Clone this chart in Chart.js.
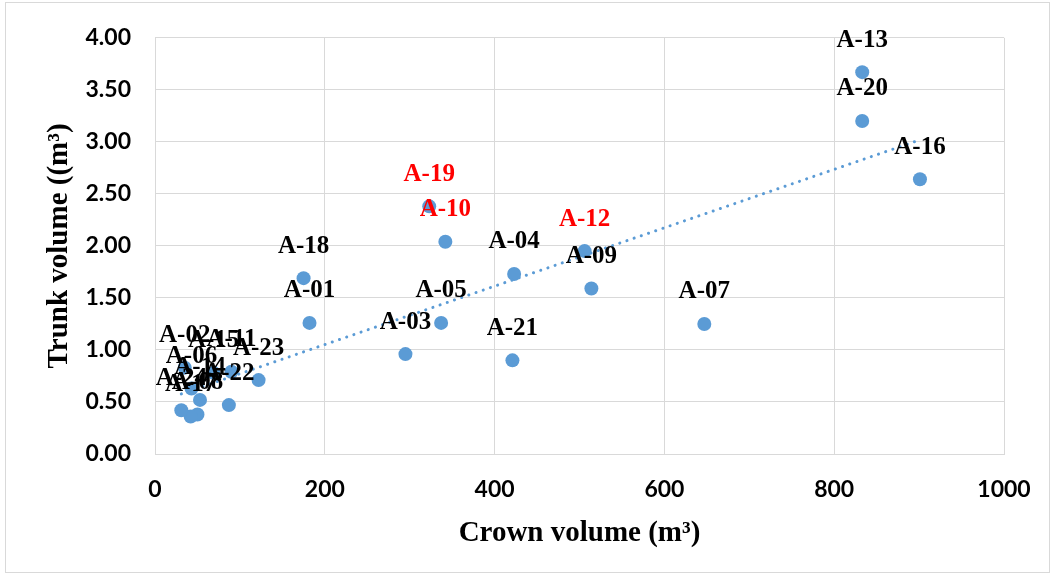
<!DOCTYPE html>
<html>
<head>
<meta charset="utf-8">
<script src="https://cdn.jsdelivr.net/npm/chart.js@4.4.1/dist/chart.umd.min.js"></script>
<style>
html,body{margin:0;padding:0;background:#fff;}
#wrap{width:1055px;height:578px;position:relative;}
</style>
</head>
<body>
<div id="wrap"><canvas id="c" width="1055" height="578"></canvas></div>
<script>
// ---- data ----
const sampleLabels = ['A-01','A-02','A-03','A-04','A-05','A-06','A-07','A-08','A-09','A-10','A-11','A-12',
                      'A-13','A-14','A-15','A-16','A-17','A-18','A-19','A-20','A-21','A-22','A-23','A-24'];
const crownVolume = [182, 35, 295, 423, 337, 43, 647, 50, 514, 342, 90, 506,
                     833, 53, 69, 901, 42, 175, 323, 833, 421, 87, 122, 31];
const trunkVolume = [1.26, 0.83, 0.96, 1.73, 1.26, 0.63, 1.25, 0.38, 1.59, 2.04, 0.79, 1.95,
                     3.67, 0.52, 0.78, 2.64, 0.36, 1.69, 2.38, 3.20, 0.90, 0.47, 0.71, 0.42];
const redLabels = ['A-19','A-10','A-12'];
const xTicks = [0, 200, 400, 600, 800, 1000];
const yTicks = [0, 0.5, 1, 1.5, 2, 2.5, 3, 3.5, 4];

// linear trendline (least squares) from the data, like the spreadsheet trendline
const n = crownVolume.length;
const mx = crownVolume.reduce((a,b)=>a+b,0)/n;
const my = trunkVolume.reduce((a,b)=>a+b,0)/n;
let sxy = 0, sxx = 0;
for (let i=0;i<n;i++){ sxy += (crownVolume[i]-mx)*(trunkVolume[i]-my); sxx += (crownVolume[i]-mx)**2; }
const slope = sxy/sxx, intercept = my - slope*mx;
const xMin = Math.min(...crownVolume), xMax = Math.max(...crownVolume);
const trendPoints = [{x:xMin, y:intercept+slope*xMin},{x:xMax, y:intercept+slope*xMax}];

const points = crownVolume.map((x,i)=>({x:x, y:trunkVolume[i]}));

const BLUE = '#5B9BD5';
const GRID = '#D9D9D9';

const labelPlugin = {
  id: 'pointLabels',
  afterDatasetsDraw(chart){
    const ctx = chart.ctx;
    const meta = chart.getDatasetMeta(1);
    ctx.save();
    ctx.font = 'bold 25px "Liberation Serif", "Times New Roman", serif';
    ctx.textAlign = 'center';
    ctx.textBaseline = 'middle';
    meta.data.forEach((el,i)=>{
      const name = sampleLabels[i];
      ctx.fillStyle = redLabels.includes(name) ? '#FF0000' : '#000000';
      ctx.fillText(name, el.x, el.y - 32);
    });
    ctx.restore();
  }
};

const borderPlugin = {
  id: 'outerBorder',
  beforeDraw(chart){
    const ctx = chart.ctx;
    ctx.save();
    ctx.fillStyle = '#fff';
    ctx.fillRect(0,0,chart.width,chart.height);
    ctx.strokeStyle = GRID;
    ctx.lineWidth = 1;
    ctx.strokeRect(5.5, 2.5, 1044, 570);
    ctx.restore();
  }
};

const tickFont = {family: 'Lato, "Open Sans", sans-serif', size: 23, weight: 'bold'};
const titleFont = {family: '"Liberation Serif", "Times New Roman", serif', size: 29, weight: 'bold'};

new Chart(document.getElementById('c'), {
  type: 'scatter',
  data: {
    datasets: [
      {
        label: 'Trend',
        data: trendPoints,
        showLine: true,
        borderColor: BLUE,
        borderWidth: 3,
        borderDash: [0.1, 7.5],
        borderCapStyle: 'round',
        pointRadius: 0,
        fill: false
      },
      {
        label: 'Samples',
        data: points,
        backgroundColor: BLUE,
        borderColor: BLUE,
        pointRadius: 7,
        pointHoverRadius: 7,
        borderWidth: 0
      }
    ]
  },
  options: {
    responsive: false,
    animation: false,
    events: [],
    layout: {padding: {left: 0, right: 51, top: 36, bottom: 0}},
    plugins: {legend: {display: false}, tooltip: {enabled: false}},
    scales: {
      x: {
        type: 'linear',
        min: xTicks[0], max: xTicks[xTicks.length-1],
        afterBuildTicks(scale){ scale.ticks = xTicks.map(v=>({value:v})); },
        afterFit(scale){ scale.height = 124; },
        grid: {color: GRID, drawTicks: false, lineWidth: 1},
        border: {color: GRID},
        ticks: {color: '#000', font: tickFont, padding: 22, callback: v => String(v)},
        title: {display: true, text: 'Crown volume (m³)', color: '#000', font: titleFont, padding: {top: 0, bottom: 27}}
      },
      y: {
        type: 'linear',
        min: yTicks[0], max: yTicks[yTicks.length-1],
        afterBuildTicks(scale){ scale.ticks = yTicks.map(v=>({value:v})); },
        afterFit(scale){ scale.width = 155; },
        grid: {color: GRID, drawTicks: false, lineWidth: 1},
        border: {color: GRID},
        ticks: {color: '#000', font: tickFont, padding: 24, callback: v => Number(v).toFixed(2)},
        title: {display: true, text: 'Trunk volume ((m³)', color: '#000', font: titleFont, padding: {top: 42, bottom: 0}}
      }
    }
  },
  plugins: [borderPlugin, labelPlugin]
});
</script>
</body>
</html>
